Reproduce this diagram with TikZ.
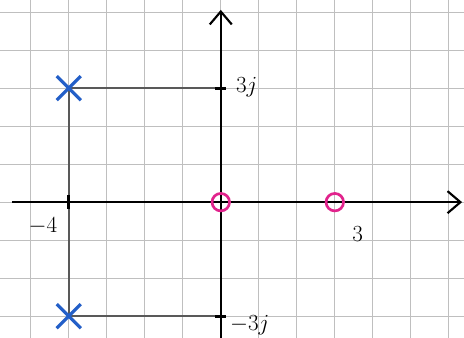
\documentclass[tikz,border=0pt]{standalone}
\usepackage{tikz}
\usetikzlibrary{arrows.meta,shapes.misc}

\definecolor{poleblue}{RGB}{35,95,200}
\definecolor{zeropink}{RGB}{225,35,140}

\tikzset{
  gridline/.style={gray!50,line width=0.7pt},
  axisline/.style={black,line width=1.9pt,-{Straight Barb[length=3.4mm,width=5.8mm,line width=1.6pt]}},
  guide/.style={black!65,line width=1.1pt},
  tick/.style={black,line width=2.2pt},
  polemark/.style={cross out,draw=poleblue,line width=2.4pt,minimum size=0.55cm,inner sep=0pt},
  zeromark/.style={circle,draw=zeropink,line width=2pt,minimum size=0.46cm,inner sep=0pt},
  lbl/.style={font=\LARGE}
}

\begin{document}
\begin{tikzpicture}[x=1cm,y=1cm]
  \useasboundingbox (-5.81,-3.57) rectangle (6.40,5.32);
  \fill[white] (-5.81,-3.57) rectangle (6.40,5.32);
  \draw[gridline] (-5.81,-3.57) grid (6.40,5.32);

  % axes
  \coordinate (xstart) at (-5.5,0);
  \coordinate (xend) at (6.35,0);
  \coordinate (ystart) at (0,-3.6);
  \coordinate (yend) at (0,5.06);
  \coordinate (up3) at (0,3);
  \coordinate (dn3) at (0,-3);
  \coordinate (xm4) at (-4,0);

  % guides from the poles
  \draw[guide] (-4,3) -- (up3);
  \draw[guide] (-4,-3) -- (dn3);
  \draw[guide] (-4,3) -- (-4,-3);

  \draw[axisline] (xstart) -- (xend);
  \draw[axisline] (ystart) -- (yend);

  \draw[tick] ([yshift=-5pt]xm4) -- ([yshift=5pt]xm4);
  \draw[tick] ([xshift=-4pt]up3) -- ([xshift=4pt]up3);
  \draw[tick] ([xshift=-4pt]dn3) -- ([xshift=4pt]dn3);

  % poles and zeros
  \node[polemark] (p1) at (-4,3) {};
  \node[polemark] (p2) at (-4,-3) {};
  \node[zeromark] (z1) at (0,0) {};
  \node[zeromark] (z2) at (3,0) {};

  \node[lbl] (l3j) at (0.68,3.02) {$3j$};
  \node[lbl] (lm3j) at (0.76,-3.24) {$-3j$};
  \node[lbl] (lm4) at (-4.68,-0.63) {$-4$};
  \node[lbl] (l3) at (3.6,-0.84) {$3$};
\end{tikzpicture}
\end{document}
